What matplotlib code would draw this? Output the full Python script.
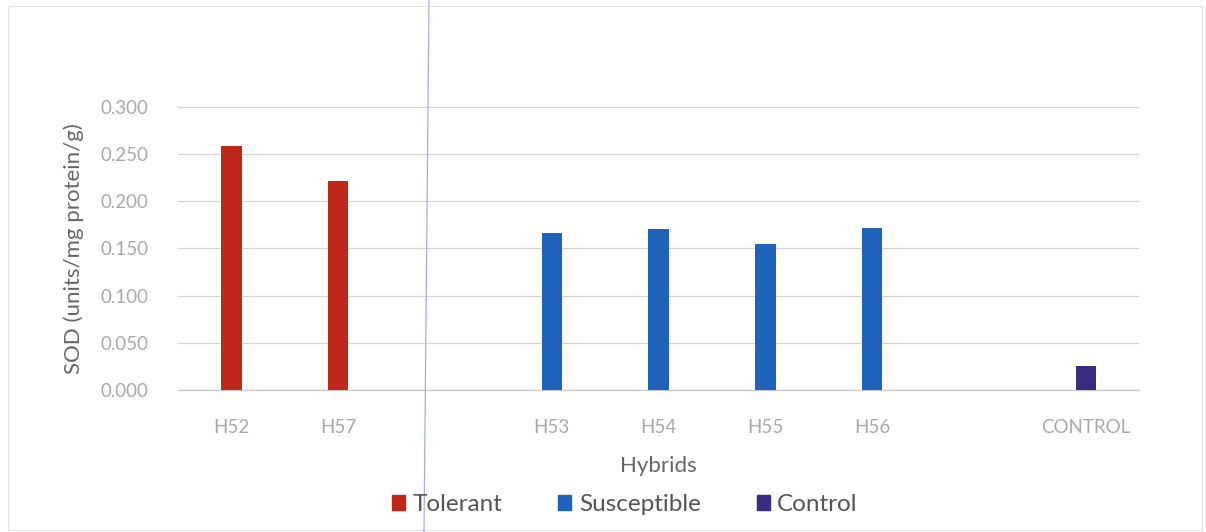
import matplotlib
matplotlib.use("Agg")
import matplotlib.pyplot as plt
from matplotlib.patches import Patch, Rectangle
from matplotlib.lines import Line2D

# Hybrid SOD activity (units/mg protein/g)
tolerant_labels = ["H52", "H57"]
tolerant_values = [0.259, 0.222]
susceptible_labels = ["H53", "H54", "H55", "H56"]
susceptible_values = [0.166, 0.171, 0.155, 0.172]
control_labels = ["CONTROL"]
control_values = [0.025]

# slot positions along the category axis (gaps between groups)
tolerant_pos = [0, 1]
susceptible_pos = [3, 4, 5, 6]
control_pos = [8]

c_tol = "#c0271b"
c_sus = "#1e63b9"
c_ctl = "#3a2c80"

plt.rcParams["font.family"] = ["Lato", "DejaVu Sans"]

fig = plt.figure(figsize=(12.06, 5.32), dpi=100)
ax = fig.add_axes([0.1476, 0.267, 0.797, 0.532])

w = 0.19
ax.bar(tolerant_pos, tolerant_values, width=w, color=c_tol, zorder=3)
ax.bar(susceptible_pos, susceptible_values, width=w, color=c_sus, zorder=3)
ax.bar(control_pos, control_values, width=w, color=c_ctl, zorder=3)

ax.set_xlim(-0.5, 8.5)
ax.set_ylim(0, 0.3)
yt = [0.0, 0.05, 0.10, 0.15, 0.20, 0.25, 0.30]
ax.set_yticks(yt)
ax.set_yticklabels([f"{v:.3f}" for v in yt])
ax.set_xticks(tolerant_pos + susceptible_pos + control_pos)
ax.set_xticklabels(tolerant_labels + susceptible_labels + control_labels)
ax.tick_params(axis="both", length=0, colors="#a9a9a9", labelsize=13.5)
ax.tick_params(axis="x", pad=21)
ax.tick_params(axis="y", pad=21)
ax.grid(axis="y", color="#d8d4d6", linewidth=0.9, zorder=0)
for s in ["top", "right", "left"]:
    ax.spines[s].set_visible(False)
ax.spines["bottom"].set_color("#c8c8c8")
ax.spines["bottom"].set_linewidth(0.9)

ax.set_ylabel("SOD (units/mg protein/g)", fontsize=16, color="#666666", labelpad=12)
ax.set_xlabel("Hybrids", fontsize=16, color="#666666", labelpad=14)

handles = [Patch(color=c_tol, label="Tolerant"),
           Patch(color=c_sus, label="Susceptible"),
           Patch(color=c_ctl, label="Control")]
fig.legend(handles=handles, loc="center", bbox_to_anchor=(0.518, 0.052),
           ncol=3, frameon=False, fontsize=17.5, handlelength=0.55,
           handleheight=0.55, handletextpad=0.3, columnspacing=2.3,
           labelcolor="#555555")

# faint chart border and the thin vertical rule
fig.add_artist(Rectangle((0.007, 0.003), 0.99, 0.985, transform=fig.transFigure,
                         fill=False, edgecolor="#e4e4e4", linewidth=0.8))
fig.add_artist(Line2D([429 / 1206, 424 / 1206], [1.0, 0.0], transform=fig.transFigure,
                      color="#aaaaee", linewidth=0.9))

fig.savefig("out.png", dpi=100, facecolor="white")
